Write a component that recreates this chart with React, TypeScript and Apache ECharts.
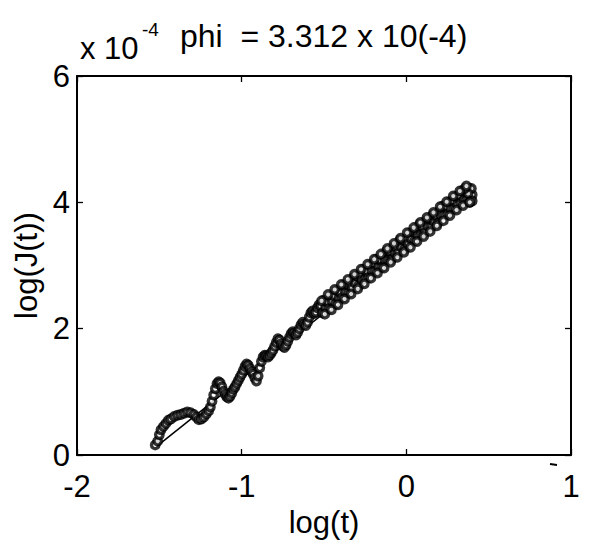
import React, { useEffect, useRef } from "react";
import * as echarts from "echarts";

// Measured points: log(t) and log(J(t)) (x 10^-4)
const earlyX = [-1.525, -1.51, -1.5, -1.49, -1.475, -1.46, -1.445, -1.43, -1.41, -1.39, -1.37, -1.35, -1.33, -1.31, -1.29, -1.275, -1.26, -1.245, -1.23, -1.215, -1.2, -1.19, -1.18, -1.17, -1.16, -1.15, -1.14, -1.13, -1.12, -1.11, -1.1, -1.09, -1.08, -1.07, -1.06, -1.05, -1.04, -1.03, -1.02, -1.01, -1.0, -0.99, -0.98, -0.97, -0.96, -0.95, -0.94, -0.93, -0.92, -0.91, -0.9, -0.89, -0.88, -0.87, -0.86, -0.85, -0.84, -0.83, -0.82, -0.81, -0.8, -0.79, -0.78, -0.77, -0.76, -0.75, -0.74, -0.73, -0.72, -0.71, -0.7, -0.69, -0.68, -0.67, -0.66, -0.65, -0.64, -0.63, -0.62, -0.61, -0.6, -0.59, -0.58, -0.57, -0.56, -0.55, -0.54, -0.53];
const earlyY = [0.16, 0.22, 0.32, 0.4, 0.45, 0.5, 0.55, 0.57, 0.61, 0.63, 0.64, 0.66, 0.68, 0.67, 0.64, 0.6, 0.56, 0.57, 0.6, 0.65, 0.7, 0.76, 0.85, 0.95, 1.05, 1.13, 1.16, 1.14, 1.08, 1.01, 0.96, 0.92, 0.9, 0.93, 0.98, 1.04, 1.08, 1.13, 1.18, 1.23, 1.28, 1.34, 1.4, 1.44, 1.42, 1.37, 1.32, 1.28, 1.22, 1.17, 1.25, 1.38, 1.48, 1.55, 1.58, 1.57, 1.55, 1.58, 1.62, 1.66, 1.72, 1.78, 1.84, 1.82, 1.76, 1.72, 1.7, 1.74, 1.8, 1.86, 1.92, 1.95, 1.93, 1.9, 1.94, 2.0, 2.06, 2.1, 2.07, 2.05, 2.1, 2.18, 2.25, 2.28, 2.24, 2.26, 2.33, 2.38];
const lateX = [-0.52, -0.51, -0.5, -0.49, -0.48, -0.47, -0.46, -0.45, -0.44, -0.43, -0.42, -0.41, -0.4, -0.39, -0.38, -0.37, -0.36, -0.35, -0.34, -0.33, -0.32, -0.31, -0.3, -0.29, -0.28, -0.27, -0.26, -0.25, -0.24, -0.23, -0.22, -0.21, -0.2, -0.19, -0.18, -0.17, -0.16, -0.15, -0.14, -0.13, -0.12, -0.11, -0.1, -0.09, -0.08, -0.07, -0.06, -0.05, -0.04, -0.03, -0.02, -0.01, 0.0, 0.01, 0.02, 0.03, 0.04, 0.05, 0.06, 0.07, 0.08, 0.09, 0.1, 0.11, 0.12, 0.13, 0.14, 0.15, 0.16, 0.17, 0.18, 0.19, 0.2, 0.21, 0.22, 0.23, 0.24, 0.25, 0.26, 0.27, 0.28, 0.29, 0.3, 0.31, 0.32, 0.33, 0.34, 0.35, 0.36, 0.37, 0.38, 0.39, 0.4, 0.395, 0.385, 0.375, 0.355, 0.4];
const lateY = [2.36, 2.25, 2.45, 2.33, 2.42, 2.32, 2.51, 2.43, 2.52, 2.39, 2.6, 2.48, 2.57, 2.49, 2.69, 2.58, 2.7, 2.57, 2.72, 2.64, 2.81, 2.72, 2.83, 2.68, 2.85, 2.77, 2.94, 2.79, 2.91, 2.81, 3.0, 2.92, 3.03, 2.91, 3.1, 2.98, 3.09, 2.97, 3.16, 3.09, 3.23, 3.09, 3.22, 3.1, 3.29, 3.2, 3.29, 3.2, 3.4, 3.29, 3.4, 3.26, 3.42, 3.34, 3.51, 3.42, 3.53, 3.39, 3.55, 3.48, 3.65, 3.5, 3.61, 3.52, 3.71, 3.62, 3.73, 3.61, 3.8, 3.69, 3.79, 3.67, 3.86, 3.8, 3.94, 3.8, 3.93, 3.81, 4.0, 3.9, 4.02, 3.9, 4.09, 3.97, 4.11, 3.99, 4.18, 4.04, 4.2, 4.05, 4.22, 4.04, 4.12, 4.22, 4.0, 4.14, 4.22, 4.02];
// Second, interleaved strand of the dense band
const bandX = [-0.515, -0.495, -0.475, -0.455, -0.435, -0.415, -0.395, -0.375, -0.355, -0.335, -0.315, -0.295, -0.275, -0.255, -0.235, -0.215, -0.195, -0.175, -0.155, -0.135, -0.115, -0.095, -0.075, -0.055, -0.035, -0.015, 0.005, 0.025, 0.045, 0.065, 0.085, 0.105, 0.125, 0.145, 0.165, 0.185, 0.205, 0.225, 0.245, 0.265, 0.285, 0.305, 0.325, 0.345, 0.365, 0.385];
const bandY = [2.44, 2.23, 2.54, 2.3, 2.62, 2.38, 2.7, 2.47, 2.78, 2.55, 2.86, 2.63, 2.94, 2.71, 3.02, 2.8, 3.1, 2.88, 3.18, 2.96, 3.27, 3.05, 3.35, 3.13, 3.43, 3.21, 3.52, 3.29, 3.6, 3.38, 3.68, 3.46, 3.76, 3.54, 3.84, 3.63, 3.93, 3.71, 4.01, 3.79, 4.1, 3.88, 4.18, 3.95, 4.26, 4.0];
// Fitted line endpoints
const fitX = [-1.52, 0.4];
const fitY = [0.13, 4.11];

const xTicks = [-2, -1, 0, 1];
const yTicks = [0, 2, 4, 6];

const FONT = "'Liberation Sans', Arial, Helvetica, sans-serif";
const FS = 31;

export default function App() {
  const ref = useRef<HTMLDivElement>(null);
  useEffect(() => {
    if (!ref.current) return;
    const chart = echarts.init(ref.current, undefined, { renderer: "svg" });
    const pts: number[][] = [];
    earlyX.forEach((x, i) => pts.push([x, earlyY[i]]));
    lateX.forEach((x, i) => pts.push([x, lateY[i]]));
    bandX.forEach((x, i) => pts.push([x, bandY[i]]));
    const axisCommon = {
      axisLine: { show: true, onZero: false, lineStyle: { color: "#000", width: 2 } },
      axisTick: { show: true, inside: true, length: 6, lineStyle: { color: "#000", width: 1.3 } },
      splitLine: { show: false },
    };
    chart.setOption({
      animation: false,
      backgroundColor: "#fff",
      grid: { left: 77, right: 18, top: 76, bottom: 95 },
      xAxis: [
        {
          type: "value", min: xTicks[0], max: xTicks[xTicks.length - 1], interval: 1,
          ...axisCommon,
          axisLabel: { color: "#000", fontSize: FS, fontFamily: FONT, margin: 16 },
          name: "log(t)", nameLocation: "middle", nameGap: 52,
          nameTextStyle: { color: "#000", fontSize: FS, fontFamily: FONT },
        },
        {
          type: "value", position: "top", min: xTicks[0], max: xTicks[xTicks.length - 1], interval: 1,
          ...axisCommon, axisLabel: { show: false },
        },
      ],
      yAxis: [
        {
          type: "value", min: yTicks[0], max: yTicks[yTicks.length - 1], interval: 2,
          ...axisCommon,
          axisLabel: { color: "#000", fontSize: FS, fontFamily: FONT, margin: 7 },
          name: "log(J(t))", nameLocation: "middle", nameGap: 23,
          nameTextStyle: { color: "#000", fontSize: FS, fontFamily: FONT },
        },
        {
          type: "value", position: "right", min: yTicks[0], max: yTicks[yTicks.length - 1], interval: 2,
          ...axisCommon, axisLabel: { show: false },
        },
      ],
      graphic: [
        { type: "text", x: 80, y: 48, style: { text: "x 10", fontSize: FS, fontFamily: FONT, fill: "#000", verticalAlign: "middle" } },
        { type: "text", x: 142, y: 29, style: { text: "-4", fontSize: 19, fontFamily: FONT, fill: "#000", verticalAlign: "middle" } },
        { type: "text", x: 180, y: 36, style: { text: "phi  = 3.312 x 10(-4)", fontSize: 32, fontFamily: FONT, fill: "#000", verticalAlign: "middle" } },
        { type: "line", shape: { x1: 550, y1: 464, x2: 557, y2: 465 }, style: { stroke: "#000", lineWidth: 2 } },
      ],
      series: [
        {
          type: "line", data: fitX.map((x, i) => [x, fitY[i]]), symbol: "none",
          lineStyle: { color: "#000", width: 1.5 }, z: 1,
        },
        {
          type: "scatter", data: pts, symbol: "circle", symbolSize: 7.5,
          itemStyle: { color: "#fff", borderColor: "#000", borderWidth: 3.4 }, z: 2,
        },
      ],
    });
    return () => chart.dispose();
  }, []);
  return <div ref={ref} style={{ width: 589, height: 550, margin: -8 }} />;
}
